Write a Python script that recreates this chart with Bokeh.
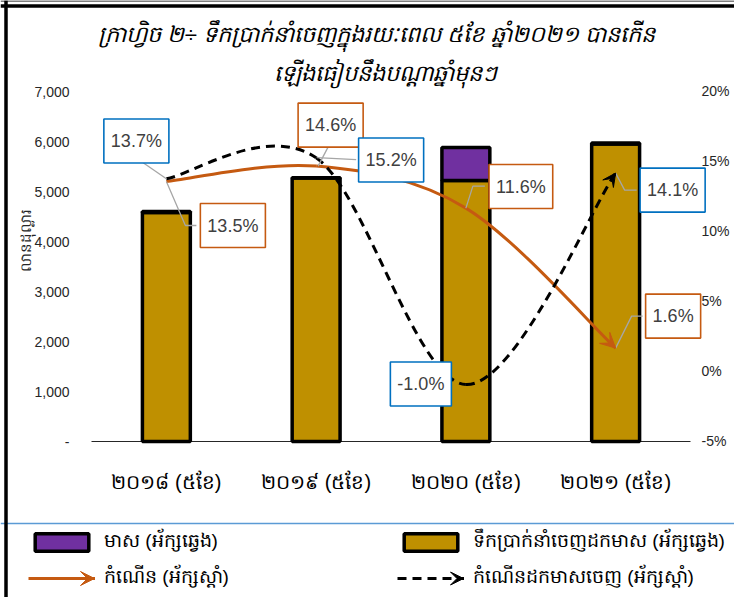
import numpy as np
from bokeh.plotting import figure
from bokeh.models import (Range1d, LinearAxis, FixedTicker, Label, Legend, LegendItem,
                          Arrow, VeeHead, ColumnDataSource, Span)
from bokeh.embed import file_html
from bokeh.resources import INLINE

# ---------------- data ----------------
categories = ["២០១៨ (៥ខែ)", "២០១៩ (៥ខែ)", "២០២០ (៥ខែ)", "២០២១ (៥ខែ)"]
exports_ex_gold = [4580, 5270, 5220, 5950]      # million USD (left axis)
gold_exports = [20, 5, 660, 20]                 # million USD (left axis)
growth_total = [13.5, 14.6, 11.6, 1.6]          # % (right axis)
growth_ex_gold = [13.7, 15.2, -1.0, 14.1]       # % (right axis)
left_ticks = [0, 1000, 2000, 3000, 4000, 5000, 6000, 7000]
left_tick_labels = ["-", "1,000", "2,000", "3,000", "4,000", "5,000", "6,000", "7,000"]
right_ticks = [-5, 0, 5, 10, 15, 20]
right_tick_labels = ["-5%", "0%", "5%", "10%", "15%", "20%"]

title_line1 = "ក្រាហ្វិច ២÷ ទឹកប្រាក់នាំចេញក្នុងរយៈពេល ៥ខែ ឆ្នាំ២០២១ បានកើន"
title_line2 = "ឡើងធៀបនឹងបណ្តាឆ្នាំមុនៗ"
y_axis_title = "លានដុល្លារ"
legend_gold = "មាស (អ័ក្សឆ្វេង)"
legend_ex_gold = "ទឹកប្រាក់នាំចេញដកមាស (អ័ក្សឆ្វេង)"
legend_growth = "កំណើន (អ័ក្សស្តាំ)"
legend_growth_ex_gold = "កំណើនដកមាសចេញ (អ័ក្សស្តាំ)"

# ---------------- style / layout (pixels) ----------------
GOLD = "#BF9000"
PURPLE = "#7030A0"
ORANGE = "#C55A11"
BLUE = "#0070C0"
LEADER = "#A6A6A6"
TXT = "#404040"
AX = "#262626"
W, H = 734, 597                 # canvas == plot frame
PLOT_LEFT = 91                  # px of the first category's left edge
PX_PER_CAT = 149.75
BASE_Y = 441                    # px (from top) of value 0 on the left axis
PX_PER_1000 = 50
ZERO_PCT_Y = 370                # px (from top) of 0 % on the right axis
PX_PER_PCT = 14

x_range = Range1d(-PLOT_LEFT / PX_PER_CAT, (W - PLOT_LEFT) / PX_PER_CAT)
y_range = Range1d(-(H - BASE_Y) / PX_PER_1000 * 1000, BASE_Y / PX_PER_1000 * 1000)
pct_range = Range1d(-(H - ZERO_PCT_Y) / PX_PER_PCT, ZERO_PCT_Y / PX_PER_PCT)

p = figure(width=W, height=H, x_range=x_range, y_range=y_range,
           output_backend="svg", toolbar_location=None,
           min_border=0, min_border_left=0, min_border_right=0,
           min_border_top=0, min_border_bottom=0)
p.outline_line_color = None
p.grid.visible = False
p.background_fill_color = "white"
p.border_fill_color = "white"
p.extra_y_ranges = {"pct": pct_range}

xpos = [i + 0.5 for i in range(len(categories))]

# left axis
ya = p.yaxis[0]
ya.ticker = FixedTicker(ticks=left_ticks)
ya.major_label_overrides = {t: l for t, l in zip(left_ticks, left_tick_labels)}
ya.axis_line_color = None
ya.major_tick_line_color = None
ya.minor_tick_line_color = None
ya.major_label_standoff = -75
ya.major_label_text_font = "Liberation Sans"
ya.major_label_text_font_size = "14px"
ya.major_label_text_color = AX

# right axis
ra = LinearAxis(y_range_name="pct", ticker=FixedTicker(ticks=right_ticks))
ra.major_label_overrides = {t: l for t, l in zip(right_ticks, right_tick_labels)}
ra.axis_line_color = None
ra.major_tick_line_color = None
ra.minor_tick_line_color = None
ra.major_label_standoff = -39
ra.major_label_text_font = "Liberation Sans"
ra.major_label_text_font_size = "14px"
ra.major_label_text_color = AX
p.add_layout(ra, "right")

# bottom (category) axis
xa = p.xaxis[0]
xa.ticker = FixedTicker(ticks=xpos)
xa.major_label_overrides = {x: c for x, c in zip(xpos, categories)}
xa.axis_line_color = None
xa.major_tick_line_color = None
xa.minor_tick_line_color = None
xa.major_label_standoff = -133
xa.major_label_text_font_size = "20px"
xa.major_label_text_color = "#000000"

# category baseline
p.segment(x0=[0], y0=[0], x1=[len(categories)], y1=[0], line_color=AX, line_width=1)

# bars
src = ColumnDataSource(dict(x=xpos, cat=categories, ex_gold=exports_ex_gold, gold=gold_exports))
bars = p.vbar_stack(["ex_gold", "gold"], x="x", width=0.32, source=src,
                    fill_color=[GOLD, PURPLE], line_color="black", line_width=3.5)


# smooth curves (Excel-like smoothed line through the data points)
def bezier_source(xs, ys, k=1/6):
    d = dict(x0=[], y0=[], x1=[], y1=[], cx0=[], cy0=[], cx1=[], cy1=[])
    n = len(xs)
    for i in range(n - 1):
        pp = (xs[i - 1], ys[i - 1]) if i > 0 else (xs[i], ys[i])
        p0 = (xs[i], ys[i])
        p1 = (xs[i + 1], ys[i + 1])
        pn = (xs[i + 2], ys[i + 2]) if i + 2 < n else p1
        d["x0"].append(p0[0]); d["y0"].append(p0[1])
        d["x1"].append(p1[0]); d["y1"].append(p1[1])
        d["cx0"].append(p0[0] + (p1[0] - pp[0]) * k); d["cy0"].append(p0[1] + (p1[1] - pp[1]) * k)
        d["cx1"].append(p1[0] - (pn[0] - p0[0]) * k); d["cy1"].append(p1[1] - (pn[1] - p0[1]) * k)
    return ColumnDataSource(d)


src_g = bezier_source(xpos, growth_total)
src_d = bezier_source(xpos, growth_ex_gold)
r_g = p.bezier(x0="x0", y0="y0", x1="x1", y1="y1", cx0="cx0", cy0="cy0", cx1="cx1", cy1="cy1",
               source=src_g, y_range_name="pct", line_color=ORANGE, line_width=3)
r_d = p.bezier(x0="x0", y0="y0", x1="x1", y1="y1", cx0="cx0", cy0="cy0", cx1="cx1", cy1="cy1",
               source=src_d, y_range_name="pct", line_color="black", line_width=3, line_dash="9 6")

# arrow heads at the end of each curve
for s, col, sz in ((src_g, ORANGE, 15), (src_d, "black", 13)):
    dd = s.data
    p.add_layout(Arrow(end=VeeHead(size=sz, fill_color=col, line_color=col, line_width=1),
                       x_start=dd["cx1"][-1], y_start=dd["cy1"][-1],
                       x_end=dd["x1"][-1], y_end=dd["y1"][-1],
                       line_alpha=0, y_range_name="pct"))

# data labels: label centre offsets px (dx, dy screen-down) and leader polylines px
label_off_g = [(66.5, 44), (14.5, -41), (55, -21.6), (57.5, -32)]
leader_g = [[(0, 0), (19, 44), (30, 44)], [(14, -23), (2, 0)],
            [(19, -22), (7, -22), (0, 0)], [(27, -32), (16, -32), (0, 0)]]
label_off_d = [(-30, -37.7), (75, 2.3), (-45, -0.5), (57, 17)]
leader_d = [[(-29, -20), (0, 0)], [(40, 2), (1, 0)], [], [(21, 17), (9, 17), (0, 0)]]

lx, ly = [], []
for vals, offs, leads in ((growth_total, label_off_g, leader_g),
                          (growth_ex_gold, label_off_d, leader_d)):
    for xc, v, lead in zip(xpos, vals, leads):
        if lead:
            lx.append([xc + a / PX_PER_CAT for a, b in lead])
            ly.append([v - b / PX_PER_PCT for a, b in lead])
p.multi_line(xs=lx, ys=ly, y_range_name="pct", line_color=LEADER, line_width=1.3)

for vals, col, offs in ((growth_total, ORANGE, label_off_g), (growth_ex_gold, BLUE, label_off_d)):
    for xc, v, (dx, dy) in zip(xpos, vals, offs):
        p.add_layout(Label(x=xc, y=v, x_offset=dx, y_offset=-dy, y_range_name="pct",
                           text=f"{v:.1f}%", text_align="center", text_baseline="middle",
                           text_font="Liberation Sans", text_font_size="18px", text_color=TXT,
                           background_fill_color="white", border_line_color=col, border_line_width=1.6,
                           padding=(7, 12)))

# y-axis title (rotated)
p.add_layout(Label(x=25, y=H - 240, x_units="screen", y_units="screen", text=y_axis_title,
                   angle=np.pi / 2, text_align="center", text_baseline="middle",
                   text_font_size="15px", text_color=AX))

# chart title (two lines)
for txt, xpx, ypx in ((title_line1, 376, 34), (title_line2, 385, 73)):
    p.add_layout(Label(x=xpx, y=H - ypx, x_units="screen", y_units="screen", text=txt,
                       text_align="center", text_baseline="middle", text_font_size="22.5px",
                       text_font_style="italic", text_color="#000000"))

# legends (two columns)
leg_a = Legend(items=[LegendItem(label=legend_gold, renderers=[bars[1]]),
                      LegendItem(label=legend_growth, renderers=[r_g])],
               location=(28, 4))
leg_b = Legend(items=[LegendItem(label=legend_ex_gold, renderers=[bars[0]]),
                      LegendItem(label=legend_growth_ex_gold, renderers=[r_d])],
               location=(397, 4))
for lg in (leg_a, leg_b):
    lg.glyph_width = 67
    lg.glyph_height = 22
    lg.label_height = 30
    lg.spacing = 6
    lg.padding = 0
    lg.margin = 0
    lg.label_standoff = 9
    lg.label_text_font_size = "19px"
    lg.label_text_color = "#000000"
    lg.border_line_alpha = 0
    lg.background_fill_alpha = 0
    p.add_layout(lg, "center")

# legend arrow heads
for x0, col, sz in ((28, ORANGE, 14), (397, "black", 13)):
    p.add_layout(Arrow(end=VeeHead(size=sz, fill_color=col, line_color=col, line_width=1),
                       x_start=x0 + 40, y_start=19, x_end=x0 + 66, y_end=19,
                       start_units="screen", end_units="screen", line_alpha=0))

# decorative frame lines of the original graphic
p.add_layout(Span(location=H - 523, location_units="screen", dimension="width",
                  line_color="#5B9BD5", line_width=1.5))
p.add_layout(Span(location=5.5, location_units="screen", dimension="height",
                  line_color="black", line_width=3.5))
p.add_layout(Span(location=H - 5.5, location_units="screen", dimension="width",
                  line_color="black", line_width=3.5))
p.add_layout(Span(location=H - 0.5, location_units="screen", dimension="width",
                  line_color="black", line_width=1))

open("out.html", "w").write(file_html(p, INLINE))
